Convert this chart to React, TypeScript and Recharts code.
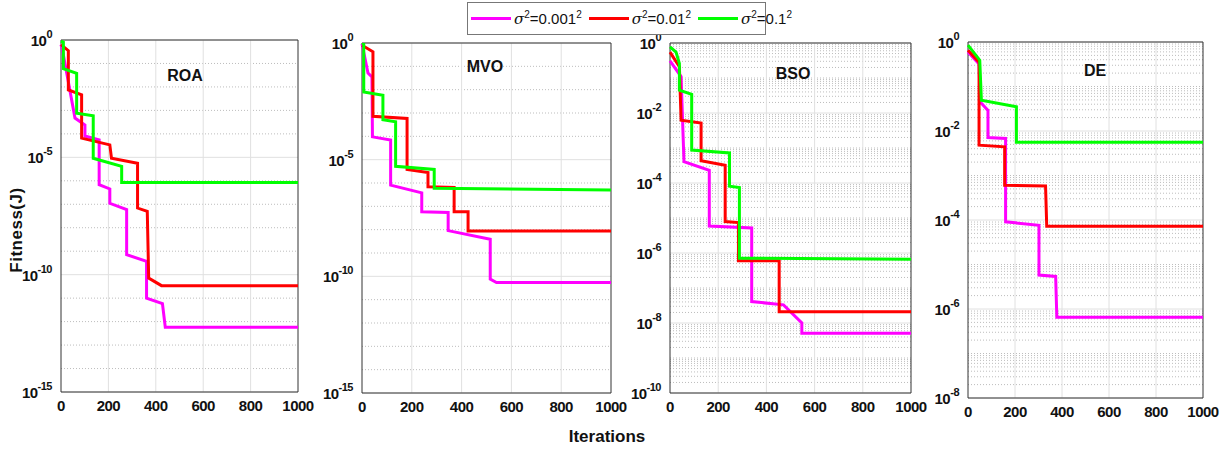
import React from "react";
import { LineChart, Line, XAxis, YAxis, CartesianGrid, ReferenceArea } from "recharts";

// [iteration, fitness] vertices
const roaMagenta: [number, number][] = [
  [0, 0.63], [8, 0.3], [59, 4.7e-4], [101, 2.4e-4], [101, 8.1e-5], [161, 5.5e-5],
  [161, 6.8e-7], [206, 4.5e-7], [206, 1.1e-7], [277, 5.9e-8], [277, 7.1e-10],
  [361, 3.7e-10], [361, 1e-11], [428, 5.9e-12], [440, 5.8e-13], [1000, 5.8e-13],
];
const roaRed: [number, number][] = [
  [0, 0.63], [31, 0.35], [31, 7.4e-3], [87, 4.6e-3], [87, 6.6e-5], [206, 3.4e-5],
  [213, 9.1e-6], [323, 5.6e-6], [323, 6.9e-8], [364, 5e-8], [370, 7.2e-11],
  [424, 3.4e-11], [1000, 3.4e-11],
];
const roaGreen: [number, number][] = [
  [0, 0.9], [10, 0.8], [10, 6e-2], [66, 3.8e-2], [66, 7.6e-4], [136, 5.9e-4],
  [136, 9.1e-6], [256, 4.1e-6], [256, 8.5e-7], [1000, 8.5e-7],
];

const mvoMagenta: [number, number][] = [
  [0, 0.93], [24, 5.2e-2], [40, 3.5e-2], [42, 9.5e-5], [115, 6.9e-5], [115, 8.1e-7],
  [240, 3.8e-7], [240, 5.9e-8], [346, 5.5e-8], [346, 9.1e-9], [515, 3.9e-9],
  [515, 7.6e-11], [540, 5.4e-11], [1000, 5.4e-11],
];
const mvoRed: [number, number][] = [
  [0, 0.8], [44, 0.42], [44, 7.2e-4], [181, 5.8e-4], [181, 3.8e-6], [265, 2.8e-6],
  [265, 6.9e-7], [370, 6.5e-7], [370, 5.9e-8], [426, 5.9e-8], [426, 8.7e-9],
  [1000, 8.7e-9],
];
const mvoGreen: [number, number][] = [
  [0, 1], [7, 0.9], [7, 7.9e-3], [84, 5.8e-3], [84, 5.2e-4], [135, 4.2e-4],
  [135, 5.2e-6], [290, 3.8e-6], [290, 5.9e-7], [1000, 5e-7],
];

const bsoMagenta: [number, number][] = [
  [0, 0.31], [46, 0.11], [58, 4.1e-4], [163, 2.3e-4], [163, 5.9e-6], [339, 5.2e-6],
  [339, 4.1e-8], [471, 3.3e-8], [547, 1e-8], [547, 5.1e-9], [1000, 5.1e-9],
];
const bsoRed: [number, number][] = [
  [0, 0.55], [39, 0.21], [46, 6.2e-3], [129, 5.2e-3], [129, 4.3e-4], [229, 3.2e-4],
  [229, 7.9e-6], [284, 7.4e-6], [284, 6e-7], [453, 6e-7], [453, 2.1e-8], [1000, 2.1e-8],
];
const bsoGreen: [number, number][] = [
  [0, 0.78], [25, 0.55], [39, 0.26], [39, 4.5e-2], [90, 3.4e-2], [90, 8.7e-4],
  [247, 7.2e-4], [247, 8.1e-5], [288, 7.4e-5], [288, 7.1e-7], [1000, 6.6e-7],
];

const deMagenta: [number, number][] = [
  [0, 0.6], [47, 0.32], [52, 4.5e-2], [85, 2.9e-2], [85, 7.1e-3], [160, 6.8e-3],
  [160, 9.1e-5], [302, 7.6e-5], [302, 5.8e-6], [373, 5.4e-6], [378, 6.5e-7],
  [1000, 6.5e-7],
];
const deRed: [number, number][] = [
  [0, 0.65], [47, 0.35], [47, 4.8e-3], [156, 4.4e-3], [156, 6e-4], [330, 5.8e-4],
  [335, 7.2e-5], [1000, 7.2e-5],
];
const deGreen: [number, number][] = [
  [0, 0.85], [50, 0.39], [57, 4.9e-2], [206, 3.5e-2], [206, 5.6e-3], [1000, 5.6e-3],
];

const sigmaLabels = ["0.001", "0.01", "0.1"];
const seriesColors = ["#ff00ff", "#ff0000", "#00ff00"];
const xTicks = [0, 200, 400, 600, 800, 1000];
const yTicks15 = [1e-15, 1e-10, 1e-5, 1];
const yTicks10 = [1e-10, 1e-8, 1e-6, 1e-4, 1e-2, 1];
const yTicks8 = [1e-8, 1e-6, 1e-4, 1e-2, 1];

const FONT = "'Liberation Sans', Arial, sans-serif";

// grid positions between the labelled ticks
function decades(lo: number, hi: number, fine: boolean, majors: number[]) {
  const out: number[] = [];
  for (let e = lo; e < hi; e++) {
    if (fine) {
      for (let m = 1; m < 10; m++) out.push(m * Math.pow(10, e));
    } else if (e > lo) {
      out.push(Math.pow(10, e));
    }
  }
  return out.filter((v) => !majors.some((t) => Math.abs(Math.log10(t) - Math.log10(v)) < 1e-6));
}

const panels = [
  {
    title: "ROA", x0: 61, x1: 298, y0: 40, y1: 392, tx: 185, ty: 77,
    domain: [1e-15, 1], ticks: yTicks15, minor: decades(-15, 0, false, yTicks15),
    series: [roaMagenta, roaRed, roaGreen],
  },
  {
    title: "MVO", x0: 362, x1: 611, y0: 43, y1: 393, tx: 485, ty: 68,
    domain: [1e-15, 1], ticks: yTicks15, minor: decades(-15, 0, false, yTicks15),
    series: [mvoMagenta, mvoRed, mvoGreen],
  },
  {
    title: "BSO", x0: 670, x1: 911, y0: 43, y1: 393, tx: 793, ty: 75,
    domain: [1e-10, 1], ticks: yTicks10, minor: decades(-10, 0, true, yTicks10),
    series: [bsoMagenta, bsoRed, bsoGreen],
  },
  {
    title: "DE", x0: 968, x1: 1203, y0: 42, y1: 398, tx: 1095, ty: 72,
    domain: [1e-8, 1], ticks: yTicks8, minor: decades(-8, 0, true, yTicks8),
    series: [deMagenta, deRed, deGreen],
  },
];

function YTick(props: any) {
  const { x, y, payload } = props;
  const exp = Math.round(Math.log10(payload.value));
  return (
    <text x={x - 1} y={y + 6} textAnchor="end" fontFamily={FONT} fontWeight="bold" fontSize={15} fill="#111" letterSpacing={-0.5}>
      10
      <tspan dy={-8} fontSize={11}>{exp}</tspan>
    </text>
  );
}

function XTick(props: any) {
  const { x, y, payload } = props;
  return (
    <text x={x} y={y + 11} textAnchor="middle" fontFamily={FONT} fontWeight="bold" fontSize={15} fill="#111" letterSpacing={-0.5}>
      {payload.value}
    </text>
  );
}

function Panel({ p }: { p: (typeof panels)[number] }) {
  const left = p.x0 - 60;
  const top = p.y0 - 20;
  const width = p.x1 - p.x0 + 80;
  const height = p.y1 - p.y0 + 50;
  return (
    <div style={{ position: "absolute", left, top }}>
      <LineChart width={width} height={height} margin={{ top: 20, right: 20, left: 0, bottom: 0 }}>
        <CartesianGrid
          xAxisId="b"
          yAxisId="l"
          stroke="#bdbdbd"
          strokeDasharray="1 2"
          vertical={false}
          horizontalValues={p.minor}
        />
        <CartesianGrid
          xAxisId="b"
          yAxisId="l"
          stroke="#e0e0e0"
          horizontalValues={p.ticks}
          verticalValues={[200, 400, 600, 800]}
        />
        <XAxis
          xAxisId="b"
          dataKey="x"
          type="number"
          domain={[0, 1000]}
          ticks={xTicks}
          tick={<XTick />}
          tickLine={false}
          axisLine={false}
          height={30}
          interval={0}
        />
        <YAxis
          yAxisId="l"
          type="number"
          scale="log"
          domain={p.domain}
          allowDataOverflow
          ticks={p.ticks}
          tick={<YTick />}
          tickLine={false}
          axisLine={false}
          width={60}
          interval={0}
        />
        <ReferenceArea
          xAxisId="b"
          yAxisId="l"
          x1={0}
          x2={1000}
          y1={p.domain[0]}
          y2={p.domain[1]}
          fill="none"
          stroke="#333"
          strokeWidth={1}
        />
        {p.series.map((s, i) => (
          <Line
            key={i}
            xAxisId="b"
            yAxisId="l"
            data={s.map(([x, y]) => ({ x, y }))}
            dataKey="y"
            type="linear"
            stroke={seriesColors[i]}
            strokeWidth={3}
            dot={false}
            isAnimationActive={false}
          />
        ))}
      </LineChart>
    </div>
  );
}

export default function App() {
  return (
    <div style={{ position: "absolute", left: 0, top: 0, width: 1226, height: 452, background: "#fff", fontFamily: FONT }}>
      {panels.map((p) => (
        <Panel key={p.title} p={p} />
      ))}
      {panels.map((p) => (
        <div
          key={p.title + "t"}
          style={{ position: "absolute", left: p.tx - 30, top: p.ty - 10, width: 60, textAlign: "center", fontWeight: "bold", fontSize: 16, color: "#111" }}
        >
          {p.title}
        </div>
      ))}
      <div
        style={{
          position: "absolute", left: 17, top: 230, transform: "translate(-50%, -50%) rotate(-90deg)",
          fontWeight: "bold", fontSize: 17, letterSpacing: 0.5, whiteSpace: "nowrap", color: "#111",
        }}
      >
        Fitness(J)
      </div>
      <div
        style={{
          position: "absolute", left: 607, top: 437, transform: "translate(-50%, -50%)",
          fontWeight: "bold", fontSize: 17, whiteSpace: "nowrap", color: "#111",
        }}
      >
        Iterations
      </div>
      <div
        style={{
          position: "absolute", left: 467, top: 2, width: 299, height: 33, border: "1px solid #777",
          background: "#fff", display: "flex", alignItems: "center", boxSizing: "border-box",
        }}
      >
        {sigmaLabels.map((s, i) => (
          <div key={s} style={{ display: "flex", alignItems: "center", marginLeft: i === 0 ? 3 : 7 }}>
            <div style={{ width: 40, height: 3, background: seriesColors[i], marginRight: 3 }} />
            <span style={{ fontSize: 15, color: "#111", whiteSpace: "nowrap" }}>
              <i style={{ fontFamily: "'DejaVu Serif', serif" }}>σ</i>
              <sup style={{ fontSize: 10 }}>2</sup>=
              {s}
              <sup style={{ fontSize: 10 }}>2</sup>
            </span>
          </div>
        ))}
      </div>
    </div>
  );
}
